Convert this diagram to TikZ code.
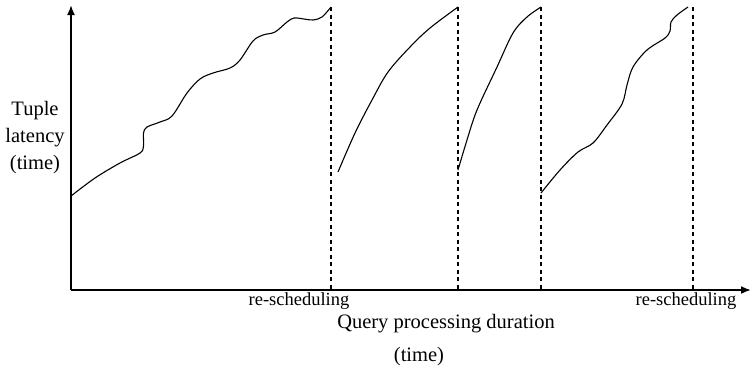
\documentclass[tikz,border=0pt]{standalone}
\usepackage{fontspec}
\setmainfont{Liberation Serif}
\usetikzlibrary{arrows.meta}
\begin{document}
\begin{tikzpicture}[x=1pt,y=-1pt,
  axis/.style={line width=1.8pt,-{Latex[length=10pt,width=8pt]}},
  resched/.style={line width=1.4pt,dash pattern=on 4pt off 3.5pt},
  latency/.style={line width=1.1pt,line join=round},
  lbl/.style={font=\fontsize{20.5}{25}\selectfont,inner sep=0pt},
  small/.style={font=\fontsize{18.5}{22}\selectfont,inner sep=0pt}]
\useasboundingbox (0,0) rectangle (751,368);
% axes
\coordinate (O) at (71,290);
\coordinate (ytop) at (71,5);
\coordinate (xend) at (751,290);
\draw[axis] (O) -- (ytop);
\draw[axis] (O) -- (xend);
% re-scheduling instants
\foreach \n/\x in {r1/331,r2/458,r3/541,r4/693}{
  \coordinate (\n top) at (\x,7);
  \coordinate (\n bot) at (\x,290);
  \draw[resched] (\n top) -- (\n bot);
}
% latency curves between re-scheduling points
\draw[latency] plot[smooth,tension=0.55] coordinates {
  (71,196) (95,178) (120,163) (140,153) (143.5,146) (143.5,133) (147,127)
  (160,122) (172,116) (187,93) (200,79) (213,73) (230,68) (240,60)
  (253,41) (263,35) (275,32) (287,22) (294,18) (304,19) (313,20) (322,17) (331,7)};
\draw[latency] plot[smooth,tension=0.55] coordinates {
  (338,172) (355,133) (372,100) (388,72) (410,47) (430,28) (458,7)};
\draw[latency] plot[smooth,tension=0.55] coordinates {
  (458,170) (467,140) (477,110) (497,67) (513,33) (527,17) (541,7)};
\draw[latency] plot[smooth,tension=0.55] coordinates {
  (541,193) (560,170) (578,152) (593,143) (607,125) (622,104) (627,85)
  (633,67) (647,50) (665,38) (670,31) (671,22) (677,15) (688,7)};
% labels
\node[lbl,anchor=base] (tl1) at (35,115) {Tuple};
\node[lbl,anchor=base] (tl2) at (35,142) {latency};
\node[lbl,anchor=base] (tl3) at (35,169) {(time)};
\node[small,anchor=base] (rs1) at (299,305) {re-scheduling};
\node[small,anchor=base] (rs2) at (686,305) {re-scheduling};
\node[lbl,anchor=base] (xl1) at (446,328) {Query processing duration};
\node[lbl,anchor=base] (xl2) at (419,361) {(time)};
\end{tikzpicture}
\end{document}
